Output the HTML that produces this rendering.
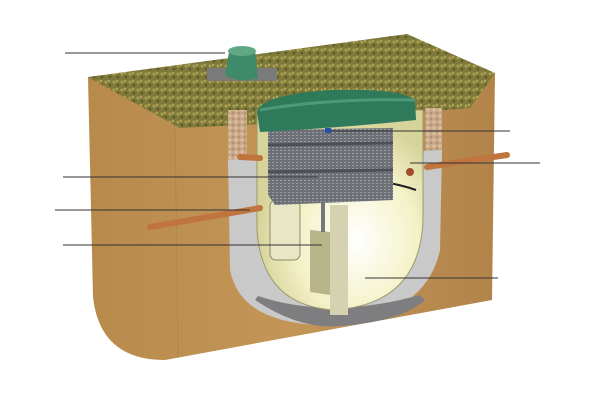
<!DOCTYPE html>
<html><head><meta charset="utf-8"><style>html,body{margin:0;padding:0;background:#fff}svg{display:block}</style></head>
<body>
<svg width="600" height="400" viewBox="0 0 600 400" xmlns="http://www.w3.org/2000/svg">
<defs>
<linearGradient id="brown" x1="0" y1="0" x2="1" y2="0"><stop offset="0" stop-color="#b88a4c"/><stop offset="0.5" stop-color="#c39557"/><stop offset="1" stop-color="#b2844a"/></linearGradient>
<pattern id="grass" width="8" height="8" patternUnits="userSpaceOnUse"><rect width="8" height="8" fill="#7f7a3a"/><circle cx="2" cy="2" r="1.5" fill="#a9a050"/><circle cx="6" cy="5" r="1.3" fill="#5a5a2a"/><circle cx="5" cy="1" r="1" fill="#c0b468"/></pattern>
<pattern id="grav" width="6" height="6" patternUnits="userSpaceOnUse"><rect width="6" height="6" fill="#c7a585"/><circle cx="2" cy="2" r="1.5" fill="#dcc3a8"/><circle cx="5" cy="5" r="1" fill="#a88a6c"/></pattern>
<radialGradient id="tank" cx="0.6" cy="0.65" r="0.6"><stop offset="0" stop-color="#ffffff"/><stop offset="0.6" stop-color="#f4f2c8"/><stop offset="1" stop-color="#d6d49a"/></radialGradient>
<pattern id="media" width="4" height="3" patternUnits="userSpaceOnUse"><rect width="4" height="3" fill="#6d7177"/><rect width="2" height="1" fill="#9a9ea3"/></pattern>
</defs>
<!-- box body -->
<path d="M88,77 L495,73 L492,300 L165,360 Q100,360 93,297 Z" fill="url(#brown)"/>
<path d="M88,77 L175,125 L178,358" stroke="#a97c43" stroke-width="1" fill="none" opacity="0.5"/>
<!-- grass -->
<path d="M88,77 L407,34 L495,73 L470,108 L262,124 L180,128 Z" fill="url(#grass)"/>
<!-- gravel and concrete cutout -->
<path d="M228,110 L247,110 L247,160 L228,160 Z" fill="url(#grav)"/>
<path d="M425,108 L442,108 L442,160 L425,160 Z" fill="url(#grav)"/>
<path d="M228,160 L442,150 L440,250 Q425,320 320,325 Q240,322 230,270 Z" fill="#c9c9c9"/>
<path d="M255,300 Q300,330 340,326 Q400,322 425,300 L420,295 Q330,320 258,296 Z" fill="#7e7e80"/>
<!-- tank -->
<path d="M257,110 L423,110 L423,220 Q420,305 333,310 Q262,305 257,230 Z" fill="url(#tank)" stroke="#9c9a6a" stroke-width="1"/>
<rect x="270" y="200" width="30" height="60" rx="6" fill="#e8e6c4" stroke="#8b8a66"/>
<path d="M310,230 L330,232 L330,295 L310,292 Z" fill="#b8b58a"/>
<rect x="330" y="205" width="18" height="110" fill="#d4d2b0"/>
<line x1="323" y1="200" x2="323" y2="232" stroke="#777" stroke-width="4"/>
<!-- pipes -->
<path d="M150,227 L260,208" stroke="#c0743e" stroke-width="6" stroke-linecap="round"/>
<path d="M240,157 L260,158" stroke="#c0743e" stroke-width="6" stroke-linecap="round"/>
<path d="M427,167 L507,155" stroke="#c0743e" stroke-width="6" stroke-linecap="round"/>
<circle cx="410" cy="172" r="4" fill="#a24a2a"/>
<path d="M270,190 Q360,170 416,190" stroke="#222" stroke-width="2" fill="none"/>
<!-- media -->
<path d="M268,130 L393,128 L393,200 L275,205 L268,195 Z" fill="url(#media)"/>
<path d="M268,145 L393,143 M268,172 L393,170" stroke="#4c5056" stroke-width="3"/>
<rect x="325" y="128" width="6" height="5" fill="#2453b0"/>
<!-- lid -->
<path d="M257,112 Q260,95 330,90 Q400,88 415,100 L416,120 Q340,128 260,132 Z" fill="#2f7a5a"/>
<path d="M260,110 Q330,98 415,100" stroke="#4e9a78" stroke-width="3" fill="none"/>
<!-- vent -->
<rect x="207" y="68" width="70" height="13" fill="#7a7a7a"/>
<path d="M225,75 L229,52 Q240,42 255,50 L258,78 Q240,84 225,75 Z" fill="#3f8a68"/>
<ellipse cx="242" cy="51" rx="14" ry="5" fill="#62a884"/>
<!-- leader lines -->
<g stroke="#333" stroke-width="1">
<line x1="65" y1="53" x2="225" y2="53"/>
<line x1="330" y1="131" x2="510" y2="131"/>
<line x1="410" y1="163" x2="540" y2="163"/>
<line x1="63" y1="177" x2="318" y2="177"/>
<line x1="55" y1="210" x2="250" y2="210"/>
<line x1="63" y1="245" x2="322" y2="245"/>
<line x1="365" y1="278" x2="498" y2="278"/>
</g>
</svg>
</body></html>
